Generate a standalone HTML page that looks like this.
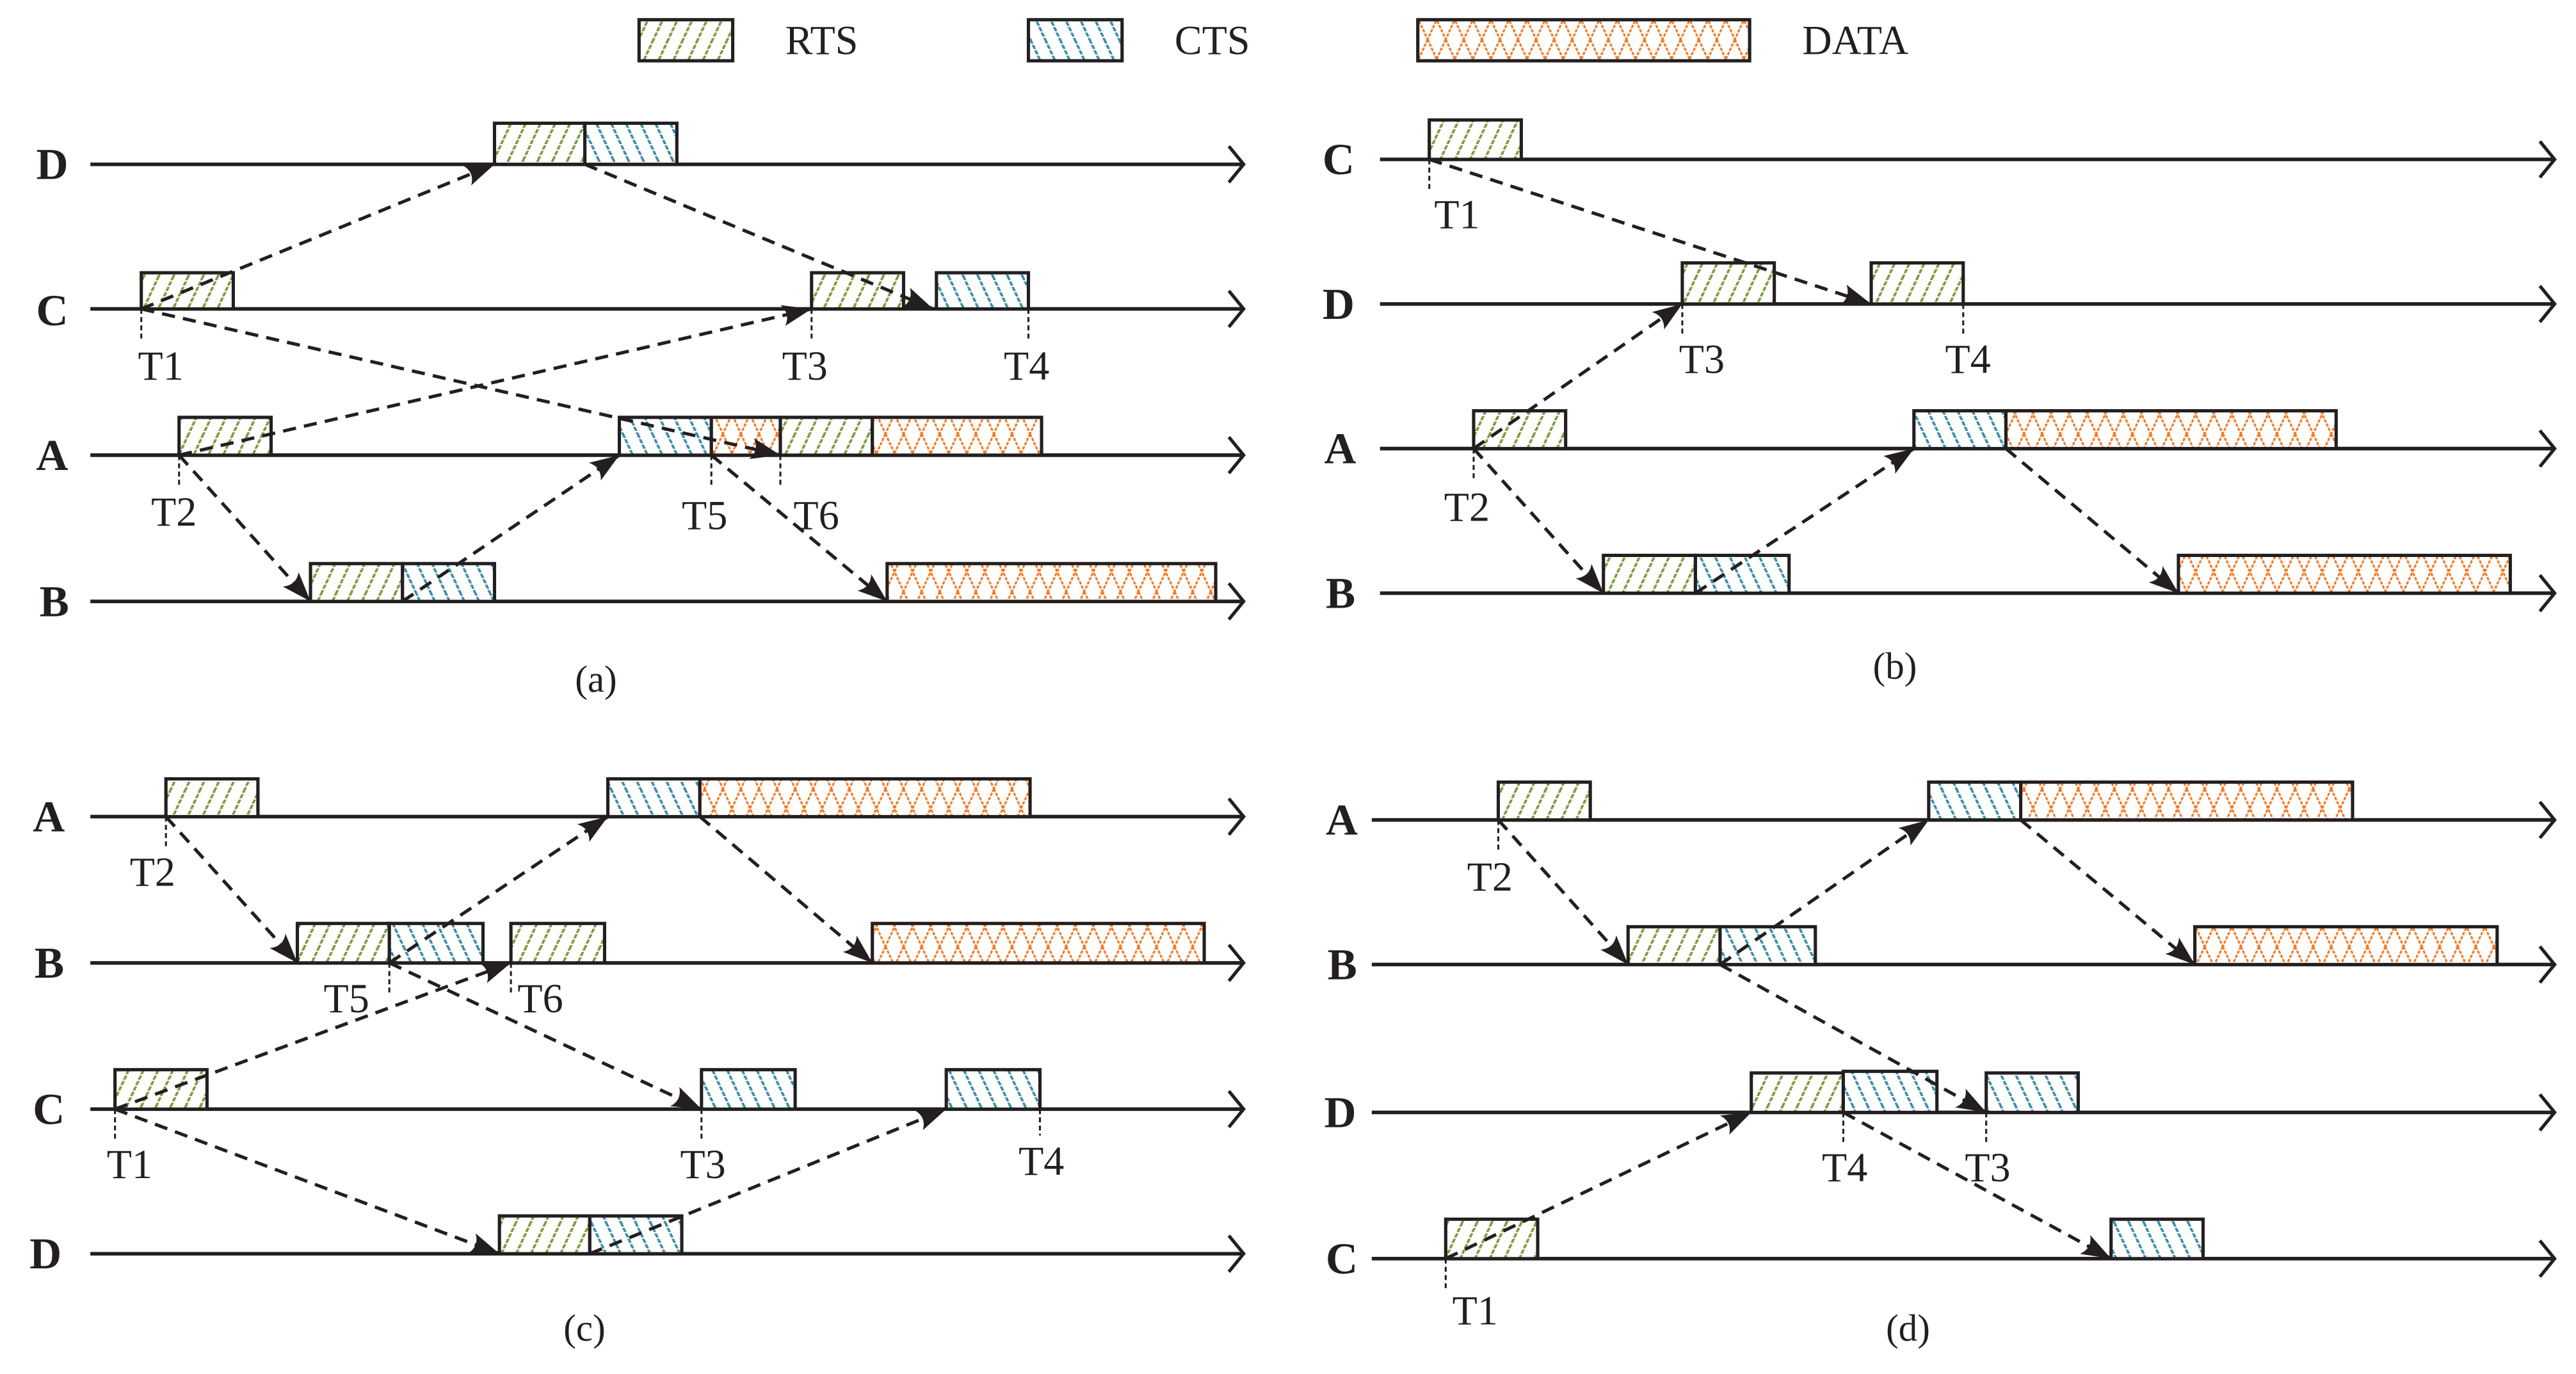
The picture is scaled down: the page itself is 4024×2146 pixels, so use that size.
<!DOCTYPE html>
<html><head><meta charset="utf-8"><style>
html,body{margin:0;padding:0;background:#fff}
svg{display:block}
text{font-family:"Liberation Serif",serif;fill:#231f20}
.lb{font-weight:bold;font-size:27px}
.t{font-size:25px}
.cap{font-size:23px}
.ax{stroke:#231f20;stroke-width:2.2;fill:none}
.ah{stroke:#231f20;stroke-width:2;fill:none}
.d{stroke:#231f20;stroke-width:2;stroke-dasharray:8 5;fill:none;marker-end:url(#m)}
.v{stroke:#231f20;stroke-width:1.2;stroke-dasharray:3 2}
.r{fill:url(#pr);stroke:#231f20;stroke-width:2}
.c{fill:url(#pc);stroke:#231f20;stroke-width:2}
.x{fill:url(#px);stroke:#231f20;stroke-width:2}
</style></head><body>
<svg width="4024" height="2146" viewBox="0 0 1568 836.2" preserveAspectRatio="none" xmlns="http://www.w3.org/2000/svg">
<defs>
<pattern id="pr" patternUnits="userSpaceOnUse" width="9" height="24" patternTransform="skewX(-25)">
<rect width="9" height="24" fill="#fff"/><line x1="4" y1="0" x2="4" y2="24" stroke="#7d9c3c" stroke-width="1.6" stroke-dasharray="2.5 0.8"/></pattern>
<pattern id="pc" patternUnits="userSpaceOnUse" width="9" height="24" patternTransform="skewX(25)">
<rect width="9" height="24" fill="#fff"/><line x1="4" y1="0" x2="4" y2="24" stroke="#3a8ea8" stroke-width="1.6" stroke-dasharray="2.5 0.8"/></pattern>
<pattern id="px" patternUnits="userSpaceOnUse" width="11" height="24">
<rect width="11" height="24" fill="#fff"/><path d="M0,0 L5.5,12 L0,24 M11,0 L5.5,12 L11,24" stroke="#f07a24" stroke-width="1.2" fill="none" stroke-dasharray="2 0.8"/></pattern>
<marker id="m" markerUnits="userSpaceOnUse" markerWidth="20" markerHeight="14" refX="18" refY="6.5" orient="auto">
<path d="M0,0 L18,6.5 L0,13 Q5,6.5 0,0Z" fill="#231f20"/></marker>
</defs>

<!-- legend -->
<rect class="r" x="389" y="12" width="57" height="25"/><text class="t" x="478" y="33">RTS</text>
<rect class="c" x="626" y="12" width="57" height="25"/><text class="t" x="715" y="33">CTS</text>
<rect class="x" x="863" y="12" width="202" height="25"/><text class="t" x="1097" y="33">DATA</text>

<!-- ===== (a) ===== -->
<g>
<text class="lb" x="22" y="109">D</text><text class="lb" x="22" y="198">C</text><text class="lb" x="22" y="286">A</text><text class="lb" x="24" y="375">B</text>
<line class="ax" x1="55" y1="100" x2="757" y2="100"/><path class="ah" d="M748,89 L757,100 L748,111"/>
<line class="ax" x1="55" y1="188" x2="757" y2="188"/><path class="ah" d="M748,177 L757,188 L748,199"/>
<line class="ax" x1="55" y1="277" x2="757" y2="277"/><path class="ah" d="M748,266 L757,277 L748,288"/>
<line class="ax" x1="55" y1="366" x2="757" y2="366"/><path class="ah" d="M748,355 L757,366 L748,377"/>
<rect class="r" x="301" y="75" width="55" height="25"/><rect class="c" x="356" y="75" width="56" height="25"/>
<rect class="r" x="86" y="166" width="56" height="22"/><rect class="r" x="494" y="166" width="56" height="22"/><rect class="c" x="570" y="166" width="56" height="22"/>
<rect class="r" x="109" y="254" width="56" height="23"/><rect class="c" x="377" y="254" width="56" height="23"/><rect class="x" x="433" y="254" width="42" height="23"/><rect class="r" x="475" y="254" width="56" height="23"/><rect class="x" x="531" y="254" width="103" height="23"/>
<rect class="r" x="189" y="343" width="56" height="23"/><rect class="c" x="245" y="343" width="56" height="23"/><rect class="x" x="540" y="343" width="200" height="23"/>
<line class="d" x1="86" y1="188" x2="301" y2="100"/>
<line class="d" x1="356" y1="100" x2="568" y2="188"/>
<line class="d" x1="86" y1="188" x2="475" y2="277"/>
<line class="d" x1="109" y1="277" x2="494" y2="188"/>
<line class="d" x1="109" y1="277" x2="189" y2="366"/>
<line class="d" x1="245" y1="366" x2="377" y2="277"/>
<line class="d" x1="433" y1="277" x2="540" y2="366"/>
<line class="v" x1="86" y1="188" x2="86" y2="206"/><line class="v" x1="109" y1="277" x2="109" y2="295"/>
<line class="v" x1="494" y1="188" x2="494" y2="206"/><line class="v" x1="626" y1="188" x2="626" y2="206"/>
<line class="v" x1="433" y1="277" x2="433" y2="295"/><line class="v" x1="475" y1="277" x2="475" y2="295"/>
<text class="t" x="84" y="231">T1</text><text class="t" x="92" y="320">T2</text><text class="t" x="476" y="231">T3</text><text class="t" x="611" y="231">T4</text>
<text class="t" x="415" y="322">T5</text><text class="t" x="483" y="322">T6</text>
<text class="cap" x="350" y="421">(a)</text>
</g>

<!-- ===== (b) ===== -->
<g>
<text class="lb" x="805" y="106">C</text><text class="lb" x="805" y="194">D</text><text class="lb" x="806" y="282">A</text><text class="lb" x="807" y="370">B</text>
<line class="ax" x1="840" y1="97" x2="1555" y2="97"/><path class="ah" d="M1546,86 L1555,97 L1546,108"/>
<line class="ax" x1="840" y1="185" x2="1555" y2="185"/><path class="ah" d="M1546,174 L1555,185 L1546,196"/>
<line class="ax" x1="840" y1="273" x2="1555" y2="273"/><path class="ah" d="M1546,262 L1555,273 L1546,284"/>
<line class="ax" x1="840" y1="361" x2="1555" y2="361"/><path class="ah" d="M1546,350 L1555,361 L1546,372"/>
<rect class="r" x="870" y="73" width="56" height="24"/>
<rect class="r" x="1024" y="160" width="56" height="25"/><rect class="r" x="1139" y="160" width="56" height="25"/>
<rect class="r" x="897" y="250" width="56" height="23"/><rect class="c" x="1165" y="250" width="56" height="23"/><rect class="x" x="1221" y="250" width="201" height="23"/>
<rect class="r" x="976" y="338" width="56" height="23"/><rect class="c" x="1032" y="338" width="57" height="23"/><rect class="x" x="1326" y="338" width="202" height="23"/>
<line class="d" x1="870" y1="97" x2="1139" y2="185"/>
<line class="d" x1="897" y1="273" x2="1024" y2="185"/>
<line class="d" x1="897" y1="273" x2="976" y2="361"/>
<line class="d" x1="1032" y1="361" x2="1165" y2="273"/>
<line class="d" x1="1221" y1="273" x2="1326" y2="361"/>
<line class="v" x1="870" y1="97" x2="870" y2="115"/><line class="v" x1="1024" y1="185" x2="1024" y2="203"/><line class="v" x1="1195" y1="185" x2="1195" y2="203"/><line class="v" x1="897" y1="273" x2="897" y2="291"/>
<text class="t" x="873" y="139">T1</text><text class="t" x="1022" y="227">T3</text><text class="t" x="1184" y="227">T4</text><text class="t" x="879" y="317">T2</text>
<text class="cap" x="1140" y="413">(b)</text>
</g>

<!-- ===== (c) ===== -->
<g>
<text class="lb" x="20" y="506">A</text><text class="lb" x="21" y="595">B</text><text class="lb" x="20" y="684">C</text><text class="lb" x="18" y="772">D</text>
<line class="ax" x1="55" y1="497" x2="757" y2="497"/><path class="ah" d="M748,486 L757,497 L748,508"/>
<line class="ax" x1="55" y1="586" x2="757" y2="586"/><path class="ah" d="M748,575 L757,586 L748,597"/>
<line class="ax" x1="55" y1="675" x2="757" y2="675"/><path class="ah" d="M748,664 L757,675 L748,686"/>
<line class="ax" x1="55" y1="763" x2="757" y2="763"/><path class="ah" d="M748,752 L757,763 L748,774"/>
<rect class="r" x="101" y="474" width="56" height="23"/><rect class="c" x="370" y="474" width="56" height="23"/><rect class="x" x="426" y="474" width="201" height="23"/>
<rect class="r" x="181" y="562" width="56" height="24"/><rect class="c" x="237" y="562" width="57" height="24"/><rect class="r" x="311" y="562" width="57" height="24"/><rect class="x" x="531" y="562" width="202" height="24"/>
<rect class="r" x="70" y="651" width="56" height="24"/><rect class="c" x="427" y="651" width="57" height="24"/><rect class="c" x="576" y="651" width="57" height="24"/>
<rect class="r" x="304" y="740" width="55" height="23"/><rect class="c" x="359" y="740" width="56" height="23"/>
<line class="d" x1="101" y1="497" x2="181" y2="586"/>
<line class="d" x1="237" y1="586" x2="370" y2="497"/>
<line class="d" x1="426" y1="497" x2="531" y2="586"/>
<line class="d" x1="70" y1="675" x2="311" y2="586"/>
<line class="d" x1="237" y1="586" x2="427" y2="675"/>
<line class="d" x1="70" y1="675" x2="304" y2="763"/>
<line class="d" x1="359" y1="763" x2="576" y2="675"/>
<line class="v" x1="101" y1="497" x2="101" y2="515"/><line class="v" x1="237" y1="586" x2="237" y2="604"/><line class="v" x1="311" y1="586" x2="311" y2="604"/>
<line class="v" x1="70" y1="675" x2="70" y2="693"/><line class="v" x1="427" y1="675" x2="427" y2="693"/><line class="v" x1="633" y1="675" x2="633" y2="691"/>
<text class="t" x="79" y="539">T2</text><text class="t" x="197" y="616">T5</text><text class="t" x="315" y="616">T6</text>
<text class="t" x="65" y="717">T1</text><text class="t" x="414" y="717">T3</text><text class="t" x="620" y="715">T4</text>
<text class="cap" x="343" y="816">(c)</text>
</g>

<!-- ===== (d) ===== -->
<g>
<text class="lb" x="807" y="508">A</text><text class="lb" x="808" y="596">B</text><text class="lb" x="806" y="686">D</text><text class="lb" x="807" y="775">C</text>
<line class="ax" x1="835" y1="499" x2="1555" y2="499"/><path class="ah" d="M1546,488 L1555,499 L1546,510"/>
<line class="ax" x1="835" y1="587" x2="1555" y2="587"/><path class="ah" d="M1546,576 L1555,587 L1546,598"/>
<line class="ax" x1="835" y1="677" x2="1555" y2="677"/><path class="ah" d="M1546,666 L1555,677 L1546,688"/>
<line class="ax" x1="835" y1="766" x2="1555" y2="766"/><path class="ah" d="M1546,755 L1555,766 L1546,777"/>
<rect class="r" x="912" y="476" width="56" height="23"/><rect class="c" x="1174" y="476" width="56" height="23"/><rect class="x" x="1230" y="476" width="202" height="23"/>
<rect class="r" x="991" y="564" width="56" height="23"/><rect class="c" x="1047" y="564" width="58" height="23"/><rect class="x" x="1336" y="564" width="184" height="23"/>
<rect class="r" x="1066" y="653" width="56" height="24"/><rect class="c" x="1122" y="652" width="57" height="25"/><rect class="c" x="1209" y="653" width="56" height="24"/>
<rect class="r" x="880" y="742" width="56" height="24"/><rect class="c" x="1285" y="742" width="56" height="24"/>
<line class="d" x1="912" y1="499" x2="991" y2="587"/>
<line class="d" x1="1047" y1="587" x2="1174" y2="499"/>
<line class="d" x1="1230" y1="499" x2="1336" y2="587"/>
<line class="d" x1="1047" y1="587" x2="1209" y2="677"/>
<line class="d" x1="880" y1="766" x2="1066" y2="677"/>
<line class="d" x1="1122" y1="677" x2="1285" y2="766"/>
<line class="v" x1="912" y1="499" x2="912" y2="517"/><line class="v" x1="1122" y1="677" x2="1122" y2="695"/><line class="v" x1="1209" y1="677" x2="1209" y2="695"/><line class="v" x1="880" y1="766" x2="880" y2="784"/>
<text class="t" x="893" y="542">T2</text><text class="t" x="1109" y="719">T4</text><text class="t" x="1196" y="719">T3</text><text class="t" x="884" y="806">T1</text>
<text class="cap" x="1148" y="816">(d)</text>
</g>
</svg>
</body></html>
